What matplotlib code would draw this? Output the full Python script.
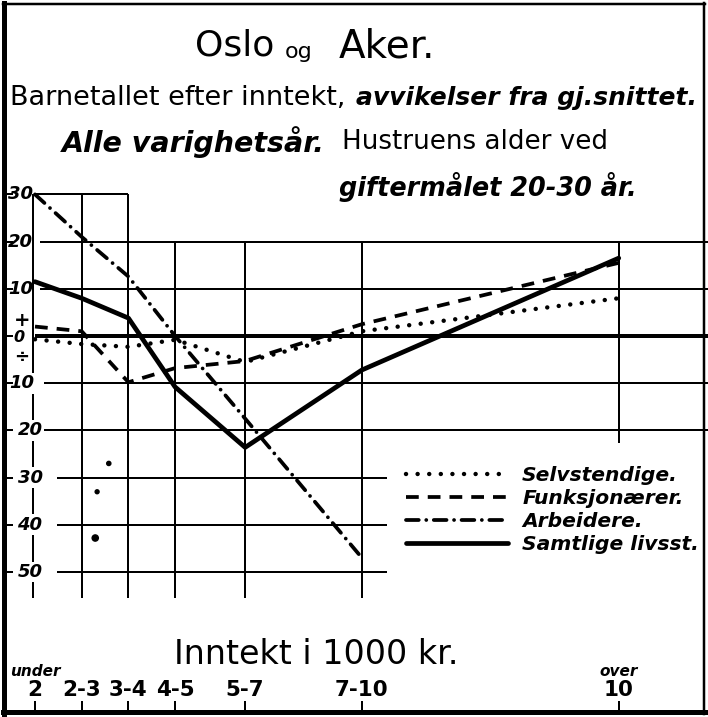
import matplotlib.pyplot as plt
import numpy as np
from matplotlib.lines import Line2D

W, H = 708, 717

# income classes (1000 kr), placed at the middle of each class
income_mid = [1.5, 2.5, 3.5, 4.5, 6.0, 8.5, 14.0]
income_labels = ["2", "2-3", "3-4", "4-5", "5-7", "7-10", "10"]
income_prefix = ["under", "", "", "", "", "", "over"]

# deviation from the average number of children (per cent)
selvstendige = [-0.7, -1.7, -2.3, -0.8, -5.5, 1.0, 8.0]
funksjonaerer = [2.0, 1.0, -9.8, -6.8, -5.3, 2.5, 15.5]
arbeidere = [30.0, 21.0, 12.6, 0.0, -17.5, -47.0, np.nan]
samtlige = [11.5, 8.0, 3.8, -10.8, -23.6, -7.2, 16.5]

# loose dots left on the sheet
stray_x = [3.08, 2.83, 2.79]
stray_y = [-27.0, -33.0, -42.8]
stray_size = [9, 8, 20]

y_levels = [30, 20, 10, 0, -10, -20, -30, -40, -50]
y_labels = ["30", "20", "10", "0", "10", "20", "30", "40", "50"]

series_names = ["Selvstendige.", "Funksjonærer.", "Arbeidere.", "Samtlige livsst."]

# pixel geometry of the sheet
X0, XS = 35.0, 46.7   # pixel of first class, pixels per 1000 kr
Y0, YS = 336.0, 4.72  # pixel of zero line, pixels per unit
PT = 0.72             # points per pixel at dpi 100


def fx(px):
    return px / W


def fy(py):
    return 1 - py / H


def dx(px):
    return income_mid[0] + (px - X0) / XS


def dy(py):
    return (Y0 - py) / YS


fig = plt.figure(figsize=(W / 100, H / 100), dpi=100)
fig.patch.set_facecolor("white")
ax = fig.add_axes([0, 0, 1, 1])
ax.set_xlim(dx(0), dx(W))
ax.set_ylim(dy(H), dy(0))
ax.axis("off")

xmax = dx(W)
k = dict(color="black", lw=2 * PT, clip_on=False, zorder=1)

# horizontal rules
ax.hlines(30, income_mid[0], income_mid[2], **k)
ax.hlines([20, 10], dx(40), xmax, **k)
ax.hlines([-10, -20], dx(44), xmax, **k)
ax.hlines([-30, -40, -50], dx(57), dx(387), **k)
ax.hlines(0, income_mid[0], xmax, color="black", lw=4 * PT, zorder=1)

# vertical rules
bottom = dy(598)
ax.vlines(dx(33), bottom, 30, **k)
ax.vlines(income_mid[1:3], bottom, 30, **k)
ax.vlines(income_mid[3:6], bottom, 20, **k)
ax.vlines(income_mid[6], dy(443), 20, **k)

# the four series
ax.plot(income_mid, selvstendige, color="black", lw=3.2, ls=(0, (0.01, 2.6)),
        dash_capstyle="round", zorder=4, label=series_names[0])
ax.plot(income_mid, funksjonaerer, color="black", lw=2.7, ls=(0, (3.4, 2.4)),
        dash_capstyle="butt", zorder=4, label=series_names[1])
ax.plot(income_mid, arbeidere, color="black", lw=2.7, ls=(0, (3.4, 2.0, 0.01, 2.0)),
        dash_capstyle="round", zorder=4, label=series_names[2])
ax.plot(income_mid, samtlige, color="black", lw=3.4, solid_capstyle="round",
        zorder=5, label=series_names[3])
ax.scatter(stray_x, stray_y, s=stray_size, color="black", zorder=4)

ax.legend(loc="upper left", bbox_to_anchor=(fx(396), fy(456)),
          bbox_transform=fig.transFigure, frameon=False, borderpad=0,
          handlelength=5.0, handletextpad=0.72, labelspacing=0.2,
          prop=dict(size=14.6, weight="bold", style="italic"))

# y axis labels
lab_kw = dict(va="center", fontsize=13, weight="bold", style="italic", zorder=6)
for lev, lab in zip(y_levels, y_labels):
    ypix = Y0 - lev * YS
    fig.add_artist(Line2D([fx(5), fx(12)], [fy(ypix), fy(ypix)], color="black", lw=2 * PT))
    if lev > 0:
        ax.text(dx(33), lev, lab, ha="right", **lab_kw)
    elif lev == 0:
        ax.text(dx(19), dy(338), lab, ha="center", va="center", fontsize=11.5,
                weight="bold", style="italic", zorder=6)
    else:
        xc = 22 if lev == -10 else 30
        ax.text(dx(xc), lev, lab, ha="center", **lab_kw,
                bbox=dict(fc="white", ec="none", pad=1.0))
fig.text(fx(22), fy(321), "+", ha="center", va="center", fontsize=14, weight="bold")
fig.text(fx(22), fy(357), "÷", ha="center", va="center", fontsize=13, weight="bold")

# x axis labels
for xm, lab, pre in zip(income_mid, income_labels, income_prefix):
    ax.text(xm, dy(690), lab, ha="center", va="center", fontsize=15.5, weight="bold")
    if pre:
        ax.text(xm, dy(671), pre, ha="center", va="center", fontsize=11,
                weight="bold", style="italic")
    xpix = X0 + (xm - income_mid[0]) * XS
    fig.add_artist(Line2D([fx(xpix), fx(xpix)], [fy(712), fy(702)], color="black", lw=2 * PT))

fig.text(fx(316), fy(655), "Inntekt i 1000 kr.", ha="center", va="center", fontsize=24)

# titles
fig.text(fx(235), fy(46), "Oslo", ha="center", va="center", fontsize=26)
fig.text(fx(299), fy(52), "og", ha="center", va="center", fontsize=16)
fig.text(fx(387), fy(46), "Aker.", ha="center", va="center", fontsize=28)
fig.text(fx(10), fy(98), "Barnetallet efter inntekt,", ha="left", va="center",
         fontsize=19.5)
fig.text(fx(697), fy(98), "avvikelser fra gj.snittet.", ha="right", va="center",
         fontsize=18, style="italic", weight="bold")
fig.text(fx(62), fy(142), "Alle varighetsår.", ha="left", va="center",
         fontsize=20.5, style="italic", weight="bold")
fig.text(fx(342), fy(142), "Hustruens alder ved", ha="left", va="center",
         fontsize=18.8)
fig.text(fx(637), fy(187), "giftermålet 20-30 år.", ha="right", va="center",
         fontsize=18.4, style="italic", weight="bold")

# sheet border
for xs, ys, lw in [([4, 4], [3, 714], 5), ([3, 705], [4, 4], 2.5),
                   ([704, 704], [3, 714], 2.5), ([3, 705], [712, 712], 5)]:
    fig.add_artist(Line2D([fx(v) for v in xs], [fy(v) for v in ys],
                          color="black", lw=lw * PT))

fig.savefig("out.png", dpi=100)
